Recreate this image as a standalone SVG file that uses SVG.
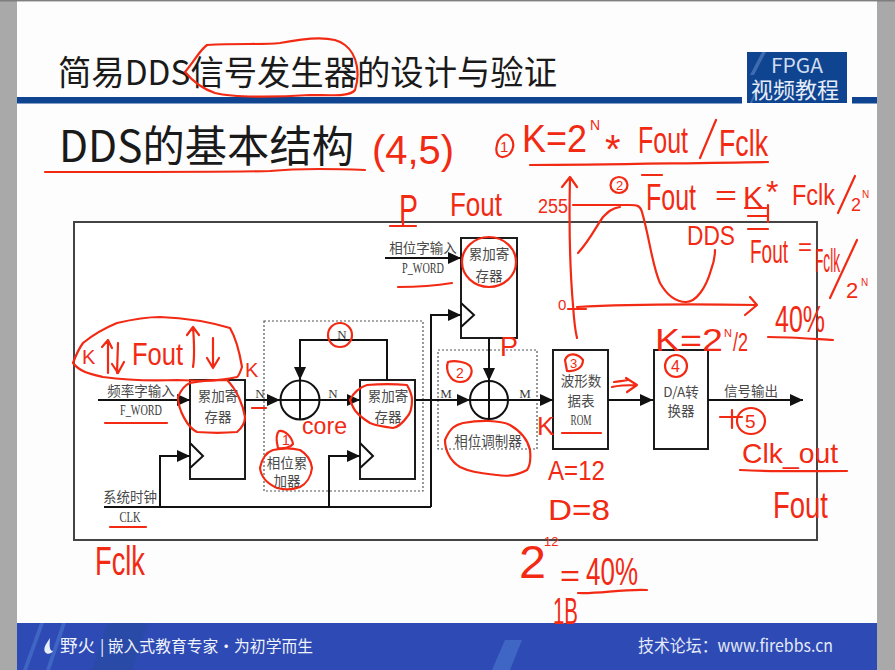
<svg xmlns="http://www.w3.org/2000/svg" width="895" height="670" viewBox="0 0 895 670">
<style>
.cjk{font-family:"Noto Sans CJK SC","Liberation Sans",sans-serif}
.lab{font-family:"Noto Sans CJK SC","Liberation Serif",serif;font-size:13.500px;fill:#4a4a4a;text-anchor:middle}
.lat{font-family:"Liberation Serif",serif;font-size:15px;fill:#3a3a3a;text-anchor:middle}
.sm{font-size:13px}
.box{fill:#fff;stroke:#1c1c1c;stroke-width:2}
.w{fill:none;stroke:#111;stroke-width:2}
.dash{fill:none;stroke:#555;stroke-width:1.2;stroke-dasharray:2 2}
.ink{fill:none;stroke:#f22a14;stroke-width:2.2;stroke-linecap:round;stroke-linejoin:round}
.h{font-family:"Liberation Sans",sans-serif;fill:#f22a14}
</style>
<defs>
<marker id="a" markerUnits="userSpaceOnUse" markerWidth="14" markerHeight="12" refX="13" refY="6" orient="auto"><path d="M0 0L13 6L0 12Z" fill="#111"/></marker>
</defs>
<rect width="895" height="670" fill="#a9a9a9"/>
<rect width="895" height="1.500" fill="#7f7f7f"/>
<rect x="17" y="1.500" width="860" height="669" fill="#fdfdfd"/>

<g id="header">
<rect x="17" y="97" width="725" height="6.500" fill="#0f4490"/>
<rect x="852" y="97" width="25" height="6.500" fill="#0f4490"/>
<rect x="747" y="52" width="100" height="51" fill="#0f4490"/>
<path d="M750 75L762 52H766L754 75ZM750 103L760 80H762L752 103Z" fill="#3f6cb0"/>
<text class="cjk" x="771" y="73" font-size="20" fill="#cfdcf0" textLength="52" lengthAdjust="spacingAndGlyphs">FPGA</text>
<text class="cjk" x="751" y="98" font-size="22" fill="#e6edf8" textLength="88" lengthAdjust="spacingAndGlyphs">视频教程</text>
<text class="cjk" x="58" y="85" font-size="34" fill="#1a1a1a" textLength="499" lengthAdjust="spacingAndGlyphs">简易DDS信号发生器的设计与验证</text>
<text class="cjk" x="59" y="162" font-size="43" fill="#1a1a1a" textLength="295" lengthAdjust="spacingAndGlyphs">DDS的基本结构</text>
</g>

<g id="footer">
<rect x="17" y="623" width="860" height="47" fill="#2e4bb5"/>
<path d="M108 623H148L132 670H92Z" fill="#2a4aa8"/>
<path d="M505 640H522L510 670H492ZM40 623H44L27 670H23ZM62 623H66L50 670H46Z" fill="#3f66c4"/>
<path d="M50 638C46 644 43 648 45 652C47 655 51 654 53 651C50 651 49 648 50 638Z" fill="#e8eefa"/>
<text class="cjk" x="60" y="652" font-size="17" fill="#f0f3fb" textLength="35" lengthAdjust="spacingAndGlyphs">野火</text>
<text class="cjk" x="100" y="652" font-size="16" fill="#f0f3fb" textLength="213" lengthAdjust="spacingAndGlyphs">| 嵌入式教育专家·为初学而生</text>
<text class="cjk" x="638" y="652" font-size="17" fill="#e4e9f7" textLength="195" lengthAdjust="spacingAndGlyphs">技术论坛：www.firebbs.cn</text>
</g>

<rect x="74" y="222" width="743" height="318" fill="#fff" stroke="#444" stroke-width="2"/>

<g id="dashed-groups">
<rect class="dash" x="264" y="321" width="159" height="170"/>
<rect class="dash" x="438" y="350" width="99" height="99"/>
</g>

<g id="reg-freq">
<rect class="box" x="190" y="380" width="55" height="99"/>
<path class="w" d="M190 443L203 456L190 468"/>
<text class="lab" x="218" y="401">累加寄</text><text class="lab" x="218" y="422">存器</text>
</g>
<g id="adder-phase">
<circle class="w" cx="300" cy="400" r="19.500"/>
<path class="w" d="M281 400H320M300 381V420" stroke-width="1.500"/>
</g>
<g id="reg-phase">
<rect class="box" x="360" y="380" width="55" height="99"/>
<path class="w" d="M360 443L373 456L360 468"/>
<text class="lab" x="388" y="401">累加寄</text><text class="lab" x="388" y="422">存器</text>
</g>
<g id="reg-word">
<rect class="box" x="461" y="238" width="56" height="100"/>
<path class="w" d="M461 303L474 315L461 327"/>
<text class="lab" x="489" y="259">累加寄</text><text class="lab" x="489" y="281">存器</text>
</g>
<g id="adder-mod">
<circle class="w" cx="489" cy="400" r="19"/>
<path class="w" d="M470 400H508M489 381V419" stroke-width="1.500"/>
</g>
<g id="rom">
<rect class="box" x="553" y="350" width="55" height="99"/>
<text class="lab" x="581" y="386">波形数</text><text class="lab" x="581" y="406">据表</text>
<text class="lat" x="581" y="425" textLength="21" lengthAdjust="spacingAndGlyphs">ROM</text>
</g>
<g id="dac">
<rect class="box" x="654" y="350" width="54" height="99"/>
<text class="lab" x="681" y="397">D/A转</text><text class="lab" x="681" y="416">换器</text>
</g>

<g id="connectors">
<path class="w" marker-end="url(#a)" d="M98 400H190"/>
<path class="w" marker-end="url(#a)" d="M245 400H280"/>
<path class="w" marker-end="url(#a)" d="M320 400H360"/>
<path class="w" marker-end="url(#a)" d="M415 400H470"/>
<path class="w" marker-end="url(#a)" d="M508 400H553"/>
<path class="w" marker-end="url(#a)" d="M608 400H653"/>
<path class="w" marker-end="url(#a)" d="M708 400H803"/>
<path class="w" marker-end="url(#a)" d="M387 380V340H300V380"/>
<path class="w" marker-end="url(#a)" d="M385 258H461"/>
<path class="w" marker-end="url(#a)" d="M489 338V381"/>
<path class="w" d="M104 507H431"/>
<path class="w" marker-end="url(#a)" d="M160 507V456H190"/>
<path class="w" marker-end="url(#a)" d="M329 507V456H360"/>
<path class="w" marker-end="url(#a)" d="M431 507V315H461"/>
</g>

<g id="labels">
<text class="lab" x="141" y="396">频率字输入</text><text class="lat" x="141" y="415" textLength="42" lengthAdjust="spacingAndGlyphs">F_WORD</text>
<text class="lab" x="130" y="502">系统时钟</text><text class="lat" x="130" y="522" textLength="21" lengthAdjust="spacingAndGlyphs">CLK</text>
<text class="lab" x="423" y="253">相位字输入</text><text class="lat" x="423" y="273" textLength="42" lengthAdjust="spacingAndGlyphs">P_WORD</text>
<text class="lab" x="287" y="468">相位累</text><text class="lab" x="287" y="486">加器</text>
<text class="lab" x="488" y="446">相位调制器</text>
<text class="lab" x="751" y="396">信号输出</text>
<text class="lat sm" x="260" y="398">N</text><text class="lat sm" x="333" y="398">N</text><text class="lat sm" x="342" y="339">N</text>
<text class="lat sm" x="446" y="398">M</text><text class="lat sm" x="525" y="398">M</text>
</g>

<g id="annotation-ink">
<path class="ink" d="M207 45C240 43 260 45 280 43C310 37 335 36 345 45C358 55 360 75 355 90C350 97 330 95 310 95C280 97 235 98 215 93C200 88 190 78 185 72C195 60 200 50 207 45Z"/>
<path class="ink" d="M45 172C120 172 230 172 270 171C300 168 340 169 365 170"/>
<path class="ink" d="M530 165C600 165 680 163 768 162"/>
<path class="ink" d="M504 135C495 140 493 158 503 157C512 156 516 145 511 138C509 135 506 134 504 135Z"/>
<path class="ink" d="M390 226H416M403 222V226M398 287C420 287 440 285 452 283M105 423H167M110 527H146M252 408H266"/>
<path class="ink" d="M73 363C76 355 80 347 83 343C95 333 105 328 117 323C130 320 145 317 160 317C185 318 210 322 230 328C237 340 240 355 242 367C240 373 239 376 237 377C215 382 195 381 177 380C150 381 125 380 103 377C90 374 80 372 73 363Z"/>
<path class="ink" d="M108 373V340M102 347L108 340L112 348M118 343L117 373M112 364L118 373L124 362M193 367C195 355 194 340 193 327M187 335L193 327L199 335M213 338V368M207 358L213 368L219 358"/>
<path class="ink" d="M178 397C181 390 185 385 190 383C205 380 217 380 227 380C237 390 243 405 245 417C245 423 243 427 237 432C225 433 210 433 197 432C188 428 178 410 178 397Z"/>
<path class="ink" d="M350 400C353 393 360 387 367 385C380 384 395 384 407 385C411 392 412 396 412 400C412 408 410 414 407 417C402 424 398 427 393 428C385 427 377 426 370 423C362 418 355 412 353 407Z"/>
<ellipse class="ink" cx="340" cy="335" rx="12" ry="12"/>
<path class="ink" d="M278 448C276 440 276 434 279 431C285 430 292 437 293 444C290 448 283 449 278 448Z"/>
<path class="ink" d="M260 468C262 458 267 452 273 450C282 448 292 448 300 450C307 454 311 461 312 468C311 477 306 484 300 487C292 490 284 490 277 488C268 484 261 477 260 468Z"/>
<ellipse class="ink" cx="489" cy="262" rx="27" ry="25"/>
<path class="ink" d="M448 362C445 370 450 382 460 382C470 382 474 372 470 366C466 362 455 360 448 362Z"/>
<path class="ink" d="M445 440C450 428 455 425 463 423C480 420 500 420 510 425C522 432 528 441 530 450C531 460 530 466 527 470C518 475 508 477 497 475C480 473 470 472 460 467C450 461 445 450 445 440Z"/>
<path class="ink" d="M565 360C568 352 578 353 583 360C583 368 575 372 567 371Z"/>
<ellipse class="ink" cx="676" cy="366" rx="11" ry="11"/>
<path class="ink" d="M612 387C620 385 628 385 637 385M626 378L637 385L627 392M614 382C620 381 624 381 628 380M562 433H601"/>
<path class="ink" d="M720 417H742M732 410V428"/>
<ellipse class="ink" cx="751" cy="421" rx="14" ry="13"/>
<path class="ink" d="M740 470C780 472 815 471 847 471"/>
<path class="ink" d="M570 177C569 220 570 270 573 305C574 320 575 330 577 338M562 187L570 177L577 187"/>
<path class="ink" d="M577 307C630 304 690 304 757 305M750 297L757 305L745 315"/>
<path class="ink" d="M573 205H630C636 205 640 205 642 212C650 240 652 265 660 283C668 297 677 302 686 302C696 302 706 288 711 270C714 262 715 256 715 250"/>
<path class="ink" d="M578 253C590 240 597 225 603 217C608 212 612 208 620 207"/>
<path class="ink" d="M568 309H586"/>
<ellipse class="ink" cx="619" cy="185" rx="8.500" ry="8"/>
<path class="ink" d="M642 175H662M748 229H768M745 208H766M748 216H767M768 205V222M830 298L857 240"/>
<path class="ink" d="M768 337C790 337 815 339 833 340M578 593C600 594 620 589 647 590"/>
<path class="ink" d="M855 176L838 213M716 120L700 158"/>
</g>

<g id="annotation-text">
<text class="h" x="372" y="164" font-size="40" textLength="82" lengthAdjust="spacingAndGlyphs">(4,5)</text>
<text class="h" x="500" y="152" font-size="15">1</text>
<text class="h" x="522" y="152" font-size="38" textLength="65" lengthAdjust="spacingAndGlyphs">K=2</text>
<text class="h" x="590" y="130" font-size="14">N</text>
<text class="h" x="605" y="163" font-size="40">*</text>
<text class="h" x="638" y="153" font-size="36" textLength="50" lengthAdjust="spacingAndGlyphs">Fout</text>
<text class="h" x="719" y="156" font-size="36" textLength="49" lengthAdjust="spacingAndGlyphs">Fclk</text>
<text class="h" x="399" y="222" font-size="38" textLength="19" lengthAdjust="spacingAndGlyphs">P</text>
<text class="h" x="450" y="216" font-size="34" textLength="52" lengthAdjust="spacingAndGlyphs">Fout</text>
<text class="h" x="538" y="213" font-size="20" textLength="30" lengthAdjust="spacingAndGlyphs">255</text>
<text class="h" x="558" y="310" font-size="15">0</text>
<text class="h" x="616" y="190" font-size="13">2</text>
<text class="h" x="646" y="210" font-size="36" textLength="50" lengthAdjust="spacingAndGlyphs">Fout</text>
<text class="h" x="715" y="205" font-size="28" textLength="22" lengthAdjust="spacingAndGlyphs">=</text>
<text class="h" x="743" y="207" font-size="30" textLength="20" lengthAdjust="spacingAndGlyphs">K</text>
<text class="h" x="766" y="203" font-size="32">*</text>
<text class="h" x="792" y="205" font-size="30" textLength="43" lengthAdjust="spacingAndGlyphs">Fclk</text>
<text class="h" x="851" y="211" font-size="18">2</text>
<text class="h" x="862" y="198" font-size="10">N</text>
<text class="h" x="687" y="245" font-size="27" textLength="48" lengthAdjust="spacingAndGlyphs">DDS</text>
<text class="h" x="750" y="263" font-size="34" textLength="38" lengthAdjust="spacingAndGlyphs">Fout</text>
<text class="h" x="798" y="255" font-size="24">=</text>
<text class="h" x="815" y="272" font-size="34" textLength="25" lengthAdjust="spacingAndGlyphs">Fclk</text>
<text class="h" x="846" y="298" font-size="22">2</text>
<text class="h" x="861" y="286" font-size="10">N</text>
<text class="h" x="775" y="332" font-size="36" textLength="50" lengthAdjust="spacingAndGlyphs">40%</text>
<text class="h" x="655" y="351" font-size="32" textLength="68" lengthAdjust="spacingAndGlyphs">K=2</text>
<text class="h" x="724" y="337" font-size="11">N</text>
<text class="h" x="733" y="351" font-size="25" textLength="15" lengthAdjust="spacingAndGlyphs">/2</text>
<text class="h" x="500" y="356" font-size="28" textLength="18" lengthAdjust="spacingAndGlyphs">P</text>
<text class="h" x="245" y="377" font-size="20">K</text>
<text class="h" x="82" y="364" font-size="20">K</text>
<text class="h" x="132" y="365" font-size="32" textLength="51" lengthAdjust="spacingAndGlyphs">Fout</text>
<text class="h" x="302" y="434" font-size="24" textLength="45" lengthAdjust="spacingAndGlyphs">core</text>
<text class="h" x="282" y="445" font-size="14">1</text>
<text class="h" x="456" y="378" font-size="14">2</text>
<text class="h" x="570" y="368" font-size="13">3</text>
<text class="h" x="671" y="372" font-size="16">4</text>
<text class="h" x="745" y="428" font-size="19">5</text>
<text class="h" x="537" y="435" font-size="26">K</text>
<text class="h" x="548" y="480" font-size="27" textLength="57" lengthAdjust="spacingAndGlyphs">A=12</text>
<text class="h" x="548" y="520" font-size="30" textLength="62" lengthAdjust="spacingAndGlyphs">D=8</text>
<text class="h" x="742" y="463" font-size="28" textLength="96" lengthAdjust="spacingAndGlyphs">Clk_out</text>
<text class="h" x="773" y="518" font-size="36" textLength="55" lengthAdjust="spacingAndGlyphs">Fout</text>
<text class="h" x="95" y="575" font-size="40" textLength="50" lengthAdjust="spacingAndGlyphs">Fclk</text>
<text class="h" x="519" y="578" font-size="46" textLength="27" lengthAdjust="spacingAndGlyphs">2</text>
<text class="h" x="544" y="546" font-size="13">12</text>
<text class="h" x="560" y="586" font-size="30" textLength="20" lengthAdjust="spacingAndGlyphs">=</text>
<text class="h" x="586" y="585" font-size="38" textLength="52" lengthAdjust="spacingAndGlyphs">40%</text>
<text class="h" x="553" y="624" font-size="36" textLength="25" lengthAdjust="spacingAndGlyphs">1B</text>
</g>
</svg>
